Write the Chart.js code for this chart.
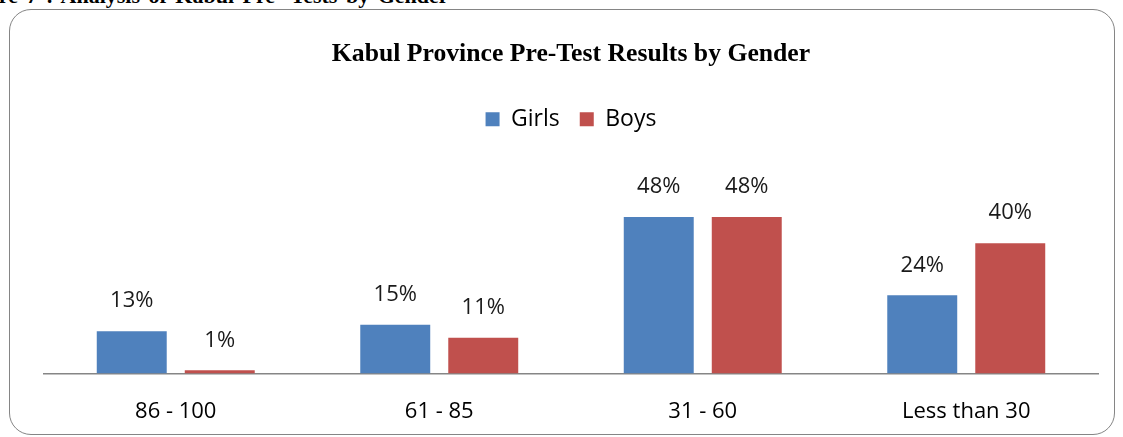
<!DOCTYPE html>
<html>
<head>
<meta charset="utf-8">
<script src="https://cdn.jsdelivr.net/npm/chart.js@4.4.0/dist/chart.umd.min.js"></script>
<style>
body{margin:0;width:1123px;height:437px;overflow:hidden;background:#fff;position:relative}
.caption{position:absolute;left:-44px;top:-17px;font:bold 22px "Liberation Serif",serif;word-spacing:3px;color:#000;white-space:nowrap}
.frame{position:absolute;left:9px;top:9px;width:1104px;height:424px;border:1.5px solid #858585;border-radius:22px}
.wrap{position:absolute;left:0;top:0;width:1123px;height:437px}
</style>
</head>
<body>
<div class="caption">Figure 7 : Analysis of Kabul Pre- Tests by Gender</div>
<div class="frame"></div>
<div class="wrap"><canvas id="myGraph" width="1123" height="437"></canvas></div>
<script>
const categories=['86 - 100','61 - 85','31 - 60','Less than 30']
const girls=[13,15,48,24]
const boys=[1,11,48,40]

// draws the % value above each bar
const barLabels={
    id:'barLabels',
    afterDatasetsDraw(chart){
        let ctx=chart.ctx
        ctx.save()
        ctx.font='22px "Open Sans"'
        ctx.fillStyle='#1a1a1a'
        ctx.textAlign='center'
        ctx.textBaseline='middle'
        chart.data.datasets.forEach(function(ds,i){
            chart.getDatasetMeta(i).data.forEach(function(bar,j){
                ctx.fillText(ds.data[j]+'%',bar.x,bar.y-30)
            })
        })
        ctx.restore()
    }
}

let myGraph=document.getElementById('myGraph').getContext('2d')
let chart=new Chart(myGraph,{
    type:'bar',
    data:{
        labels:categories,
        datasets:[{
            label:'Girls',
            data:girls,
            backgroundColor:'#4F81BD',
            barPercentage:0.795,
            categoryPercentage:0.668
        },{
            label:'Boys',
            data:boys,
            backgroundColor:'#C0504D',
            barPercentage:0.795,
            categoryPercentage:0.668
        }]
    },
    plugins:[barLabels],
    options:{
        responsive:false,
        animation:false,
        layout:{padding:{left:44,right:25,top:39,bottom:12}},
        plugins:{
            title:{
                display:true,
                text:'Kabul Province Pre-Test Results by Gender',
                color:'#000',
                font:{family:'Liberation Serif',size:25.7,weight:'bold'},
                padding:{top:0,bottom:18}
            },
            legend:{
                labels:{
                    boxWidth:14,
                    boxHeight:14,
                    padding:20,
                    color:'#000',
                    font:{family:'Open Sans',size:23}
                }
            },
            tooltip:{enabled:false}
        },
        scales:{
            x:{
                grid:{display:true,drawOnChartArea:false,drawTicks:true,tickLength:25,tickColor:'rgba(0,0,0,0)'},
                border:{display:true,color:'#868686',width:1.5},
                ticks:{color:'#000',font:{family:'Open Sans',size:22},padding:0}
            },
            y:{
                display:false,
                min:0,
                max:71.4
            }
        }
    }
})
</script>
</body>
</html>
